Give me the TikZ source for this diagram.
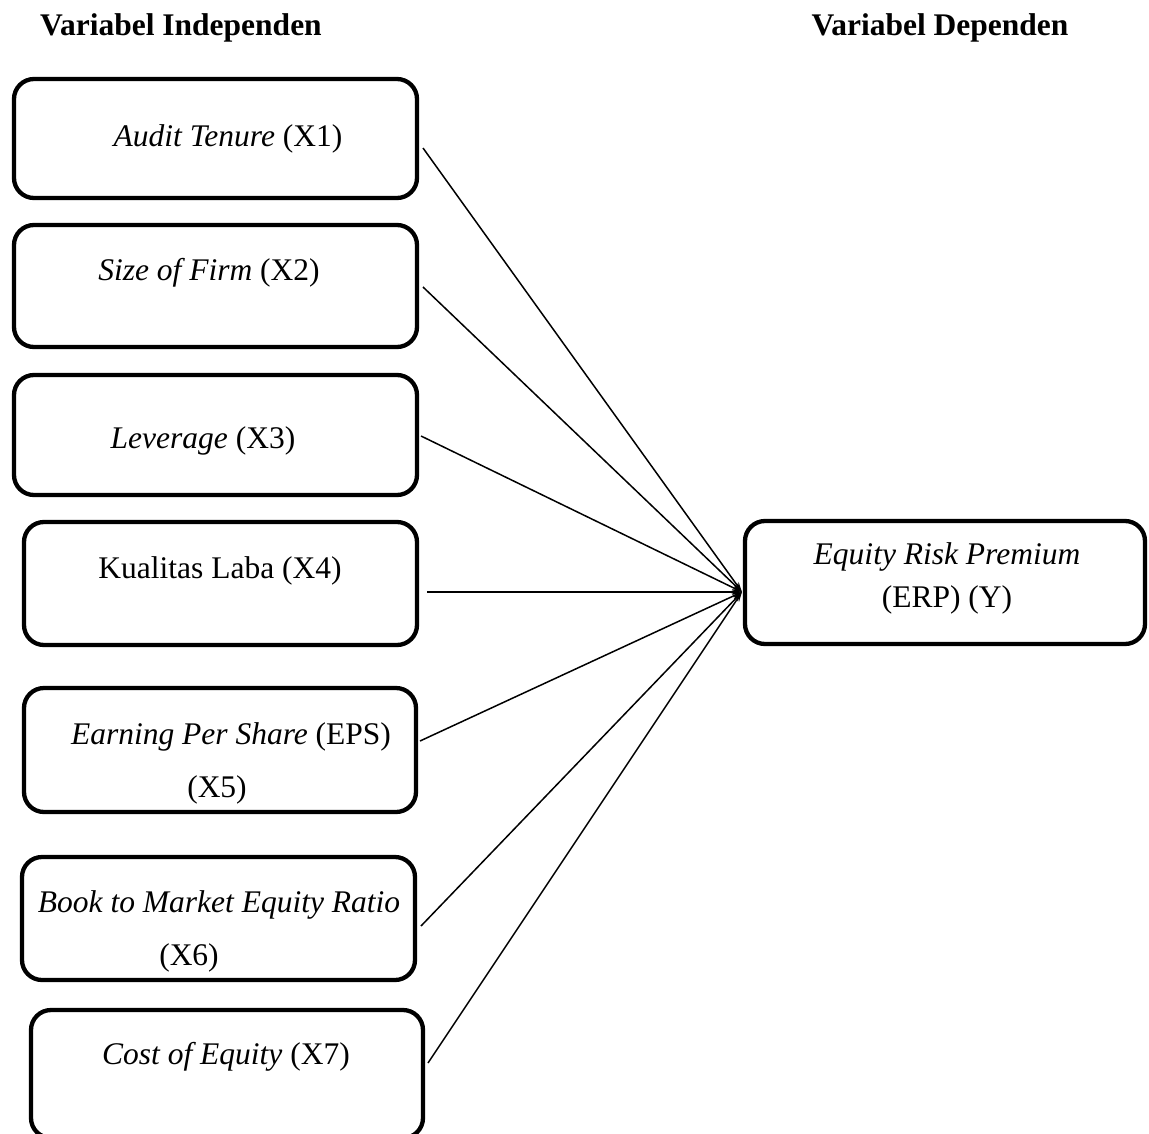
\documentclass[tikz,border=0pt]{standalone}
\usepackage{fontspec}
\setmainfont{Liberation Serif}
\usetikzlibrary{arrows.meta}
\begin{document}
\begin{tikzpicture}[x=1pt,y=-1pt,
  box/.style={draw=black,line width=4.3pt,rounded corners=20pt,inner sep=0pt,minimum width=#1},
  box/.default=403pt,
  lbl/.style={inner sep=0pt,font=\fontsize{31.5}{38}\selectfont},
  hdr/.style={inner sep=0pt,font=\fontsize{31.5}{38}\selectfont\bfseries},
  link/.style={line width=1.5pt,-{Stealth[length=10pt,width=6pt]}}]
\useasboundingbox (0,0) rectangle (1149,1133);
% headers
\node[hdr] (h1) at (181,28) {Variabel Independen};
\node[hdr] (h2) at (940,28) {Variabel Dependen};
% boxes
\node[box=403pt,minimum height=119pt] (b1) at (215.5,138.5) {};
\node[box=403pt,minimum height=122pt] (b2) at (215.5,286) {};
\node[box=403pt,minimum height=120pt] (b3) at (215.5,435) {};
\node[box=393pt,minimum height=123pt] (b4) at (220.5,583.5) {};
\node[box=392pt,minimum height=124pt] (b5) at (220,750) {};
\node[box=393pt,minimum height=123pt] (b6) at (218.5,918.5) {};
\node[box=392pt,minimum height=128pt] (b7) at (227,1074) {};
\node[box=400pt,minimum height=123pt] (y) at (945,582.5) {};
% labels
\node[lbl] (t1) at (228,139) {\textit{Audit Tenure} (X1)};
\node[lbl] (t2) at (209,273) {\textit{Size of Firm} (X2)};
\node[lbl] (t3) at (203,441) {\textit{Leverage} (X3)};
\node[lbl] (t4) at (220,571) {Kualitas Laba (X4)};
\node[lbl] (t5a) at (231,737) {\textit{Earning Per Share} (EPS)};
\node[lbl] (t5b) at (217,790) {(X5)};
\node[lbl] (t6a) at (219,905) {\textit{Book to Market Equity Ratio}};
\node[lbl] (t6b) at (189,958) {(X6)};
\node[lbl] (t7) at (226,1057) {\textit{Cost of Equity} (X7)};
\node[lbl] (ta) at (947,557) {\textit{Equity Risk Premium}};
\node[lbl] (tb) at (947,600) {(ERP) (Y)};
% connector end points
\coordinate (s1) at (423,148);
\coordinate (s2) at (423,287);
\coordinate (s3) at (421,436);
\coordinate (s4) at (427,592);
\coordinate (s5) at (420,741);
\coordinate (s6) at (421,926);
\coordinate (s7) at (428,1063);
\coordinate (tip) at (742,592);
\foreach \s in {s1,s2,s3,s4,s5,s6,s7}
  \draw[link] (\s) -- (tip);
\end{tikzpicture}
\end{document}
